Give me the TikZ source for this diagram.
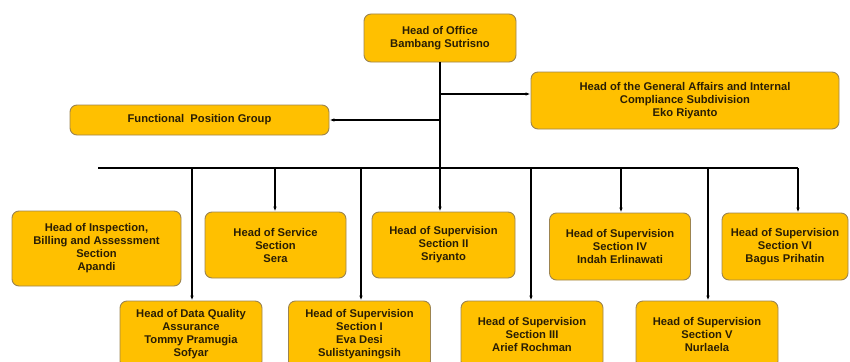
\documentclass[tikz,border=0pt]{standalone}
\usepackage{fontspec}
\setmainfont{Liberation Sans}
\usepackage{xcolor}
\usetikzlibrary{arrows.meta}

\definecolor{boxfill}{HTML}{FFC000}
\definecolor{boxline}{HTML}{9C8450}
\definecolor{boxtext}{HTML}{2A1E05}

\tikzset{
  unit/.style={draw=boxline, line width=0.9pt, fill=boxfill, rounded corners=7pt,
    align=center, text=boxtext, font=\fontsize{11.2}{13}\selectfont\bfseries,
    inner sep=2pt},
  link/.style={line width=1.3pt},
  arr/.style={link, -{Latex[length=5pt,width=3.5pt]}}
}

\begin{document}
\begin{tikzpicture}[x=1pt, y=-1pt]
        \useasboundingbox (0,0) rectangle (850,361);

        \node[unit, minimum width=152pt, minimum height=48pt] (office) at (440,38) {Head of Office\\Bambang Sutrisno};
        \node[unit, minimum width=308pt, minimum height=57pt] (ga) at (685,100.5) {Head of the General Affairs and Internal\\Compliance Subdivision\\Eko Riyanto};
        \node[unit, minimum width=259pt, minimum height=30pt] (fpg) at (199.5,120) {Functional\ \ Position Group};

        \node[unit, minimum width=169pt, minimum height=75pt] (insp) at (96.5,248.5) {Head of Inspection,\\Billing and Assessment\\Section\\Apandi};
        \node[unit, minimum width=141pt, minimum height=66pt] (serv) at (275.5,245) {Head of Service\\Section\\Sera};
        \node[unit, minimum width=143pt, minimum height=66pt] (sup2) at (443.5,245) {Head of Supervision\\Section II\\Sriyanto};
        \node[unit, minimum width=141pt, minimum height=67pt] (sup4) at (620,246.5) {Head of Supervision\\Section IV\\Indah Erlinawati};
        \node[unit, minimum width=126pt, minimum height=67pt] (sup6) at (785,246.5) {Head of Supervision\\Section VI\\Bagus Prihatin};

        \node[unit, minimum width=142pt, minimum height=67pt] (dq) at (191,334.5) {Head of Data Quality\\Assurance\\Tommy Pramugia\\Sofyar};
        \node[unit, minimum width=142pt, minimum height=67pt] (sup1) at (359.5,334.5) {Head of Supervision\\Section I\\Eva Desi\\Sulistyaningsih};
        \node[unit, minimum width=142pt, minimum height=67pt] (sup3) at (532,334.5) {Head of Supervision\\Section III\\Arief Rochman};
        \node[unit, minimum width=142pt, minimum height=67pt] (sup5) at (707,334.5) {Head of Supervision\\Section V\\Nurlaela};

        \coordinate (bus) at (440,168);
        \coordinate (busL) at (98,168);
        \coordinate (busR) at (798,168);
        \coordinate (jga) at (440,94);
        \coordinate (jfpg) at (440,120);

        \draw[link] (office.south) -- (bus);
        \draw[link] (busL) -- (busR);
        \draw[arr] (jga) -- (ga.west |- jga);
        \draw[arr] (jfpg) -- (fpg.east);

        \foreach \x/\n in {275/serv, 440/sup2, 621/sup4, 798/sup6, 192/dq, 361/sup1, 531/sup3, 708/sup5} {
          \coordinate (d\n) at (\x,168);
          \draw[arr] (d\n) -- (d\n |- \n.north);
        }

      \end{tikzpicture}
\end{document}
